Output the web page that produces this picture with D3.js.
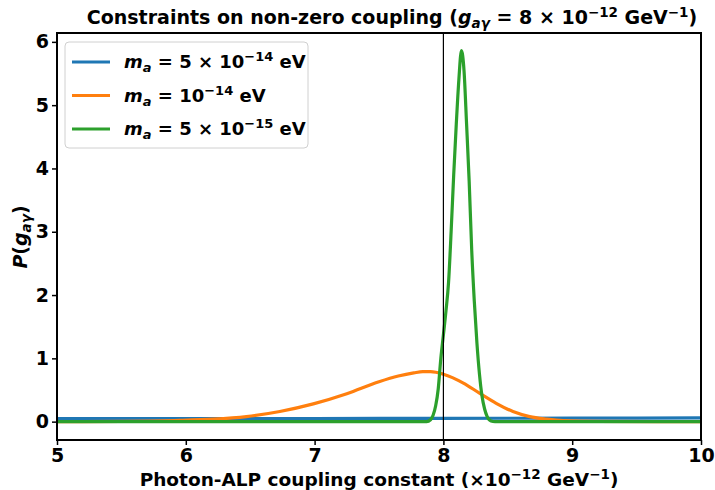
<!DOCTYPE html>
<html>
<head>
<meta charset="utf-8">
<script src="https://cdn.jsdelivr.net/npm/d3@7"></script>
<style>
  body { margin: 0; background: #fff; }
  text { font-family: "DejaVu Sans", sans-serif; font-weight: bold; }
</style>
</head>
<body>
<div id="chart"></div>
<script>
// data
const xTicks = [5, 6, 7, 8, 9, 10];
const yTicks = [0, 1, 2, 3, 4, 5, 6];

const blueX = [5, 6, 7, 8, 9, 10];
const blueY = [0.05, 0.05, 0.05, 0.052, 0.055, 0.058];

const orangeX = [5.0, 5.5, 5.95, 6.21, 6.47, 6.73, 6.99, 7.25, 7.5, 7.65, 7.77, 7.84, 7.9, 8.0, 8.155, 8.28, 8.41, 8.54, 8.67, 8.8, 8.93, 9.2, 10];
const orangeY = [0.0, 0.005, 0.02, 0.04, 0.08, 0.16, 0.28, 0.44, 0.63, 0.72, 0.77, 0.79, 0.79, 0.75, 0.61, 0.45, 0.29, 0.16, 0.08, 0.04, 0.015, 0.005, 0.0];

const greenX = [5.0, 7.5, 7.87, 7.9, 7.92, 7.94, 7.96, 7.98, 8.0, 8.02, 8.04, 8.06, 8.08, 8.1, 8.12, 8.14, 8.16, 8.18, 8.2, 8.22, 8.24, 8.26, 8.28, 8.3, 8.32, 8.34, 8.37, 8.4, 10];
const greenY = [0, 0, 0, 0.03, 0.1, 0.25, 0.52, 1.0, 1.37, 1.75, 2.2, 3.0, 3.9, 4.7, 5.4, 5.86, 5.55, 4.7, 3.8, 2.7, 1.9, 1.25, 0.75, 0.4, 0.2, 0.08, 0.01, 0, 0];

const series = [
    { label: "5 \u00d7 10", exp: "\u221214", xs: blueX, ys: blueY, color: "#1f77b4" },
    { label: "10", exp: "\u221214", xs: orangeX, ys: orangeY, color: "#ff7f0e" },
    { label: "5 \u00d7 10", exp: "\u221215", xs: greenX, ys: greenY, color: "#2ca02c" }
];

const width = 715, height = 490;
const mLeft = 57, mRight = 701, mTop = 33, mBottom = 440;

const svg = d3.select("#chart").append("svg")
    .attr("width", width)
    .attr("height", height);

const x = d3.scaleLinear().domain([5, 10]).range([mLeft, mRight]);
const y = d3.scaleLinear().domain([-0.29, 6.14]).range([mBottom, mTop]);

// clip to plot area
svg.append("clipPath").attr("id", "clip")
    .append("rect").attr("x", mLeft).attr("y", mTop)
    .attr("width", mRight - mLeft).attr("height", mBottom - mTop);

const line = d3.line()
    .x(d => x(d[0]))
    .y(d => y(d[1]))
    .curve(d3.curveMonotoneX);

const plot = svg.append("g").attr("clip-path", "url(#clip)");
series.forEach(s => {
    plot.append("path")
        .datum(s.xs.map((v, i) => [v, s.ys[i]]))
        .attr("d", line)
        .attr("fill", "none")
        .attr("stroke", s.color)
        .attr("stroke-width", 3.2)
        .attr("stroke-linejoin", "round");
});

// vertical reference line at g = 8
plot.append("line")
    .attr("x1", x(8)).attr("x2", x(8))
    .attr("y1", mTop).attr("y2", mBottom)
    .attr("stroke", "black").attr("stroke-width", 1.2);

// axes
const xAxis = svg.append("g")
    .attr("transform", `translate(0,${mBottom})`)
    .call(d3.axisBottom(x).tickValues(xTicks).tickSize(5).tickPadding(4).tickFormat(d3.format("d")));
const yAxis = svg.append("g")
    .attr("transform", `translate(${mLeft},0)`)
    .call(d3.axisLeft(y).tickValues(yTicks).tickSize(5).tickPadding(3).tickFormat(d3.format("d")));

[xAxis, yAxis].forEach(a => {
    a.select(".domain").remove();
    a.selectAll(".tick line").attr("stroke", "black").attr("stroke-width", 1.5);
    a.selectAll(".tick text")
        .attr("fill", "black")
        .style("font-size", "19px")
        .style("font-family", "DejaVu Sans")
        .style("font-weight", "bold");
});

// frame
svg.append("rect")
    .attr("x", mLeft).attr("y", mTop)
    .attr("width", mRight - mLeft).attr("height", mBottom - mTop)
    .attr("fill", "none").attr("stroke", "black").attr("stroke-width", 2);

// title
const title = svg.append("text")
    .attr("x", 392).attr("y", 24)
    .attr("text-anchor", "middle")
    .style("font-size", "19px");
title.append("tspan").text("Constraints on non-zero coupling (");
title.append("tspan").style("font-style", "italic").text("g");
title.append("tspan").attr("dy", 4).style("font-size", "13.5px").style("font-style", "italic").text("a\u03b3");
title.append("tspan").attr("dy", -4).text(" = 8 \u00d7 10");
title.append("tspan").attr("dy", -7).style("font-size", "13.5px").text("\u221212");
title.append("tspan").attr("dy", 7).text(" GeV");
title.append("tspan").attr("dy", -7).style("font-size", "13.5px").text("\u22121");
title.append("tspan").attr("dy", 7).text(")");

// x label
const xl = svg.append("text")
    .attr("x", (mLeft + mRight) / 2).attr("y", 486)
    .attr("text-anchor", "middle")
    .style("font-size", "18.5px");
xl.append("tspan").text("Photon-ALP coupling constant (\u00d710");
xl.append("tspan").attr("dy", -7).style("font-size", "13.5px").text("\u221212");
xl.append("tspan").attr("dy", 7).text(" GeV");
xl.append("tspan").attr("dy", -7).style("font-size", "13.5px").text("\u22121");
xl.append("tspan").attr("dy", 7).text(")");

// y label
const yl = svg.append("text")
    .attr("transform", "translate(27,237) rotate(-90)")
    .attr("text-anchor", "middle")
    .style("font-size", "19px");
yl.append("tspan").style("font-style", "italic").text("P");
yl.append("tspan").text("(");
yl.append("tspan").style("font-style", "italic").text("g");
yl.append("tspan").attr("dy", 4).style("font-size", "13.5px").style("font-style", "italic").text("a\u03b3");
yl.append("tspan").attr("dy", -4).text(")");

// legend
const legend = svg.append("g");
legend.append("rect")
    .attr("x", 65).attr("y", 42).attr("width", 243).attr("height", 106)
    .attr("rx", 4)
    .attr("fill", "white").attr("fill-opacity", 0.8)
    .attr("stroke", "#d0d0d0").attr("stroke-width", 1);

series.forEach((s, i) => {
    const cy = 62 + i * 33.5;
    legend.append("line")
        .attr("x1", 72).attr("x2", 110)
        .attr("y1", cy).attr("y2", cy)
        .attr("stroke", s.color).attr("stroke-width", 3.2);
    const t = legend.append("text")
        .attr("x", 124).attr("y", cy + 6)
        .style("font-size", "18px");
    t.append("tspan").style("font-style", "italic").text("m");
    t.append("tspan").attr("dy", 4).style("font-size", "13px").style("font-style", "italic").text("a");
    t.append("tspan").attr("dy", -4).text(" = " + s.label);
    t.append("tspan").attr("dy", -7).style("font-size", "13px").text(s.exp);
    t.append("tspan").attr("dy", 7).text(" eV");
});
</script>
</body>
</html>
